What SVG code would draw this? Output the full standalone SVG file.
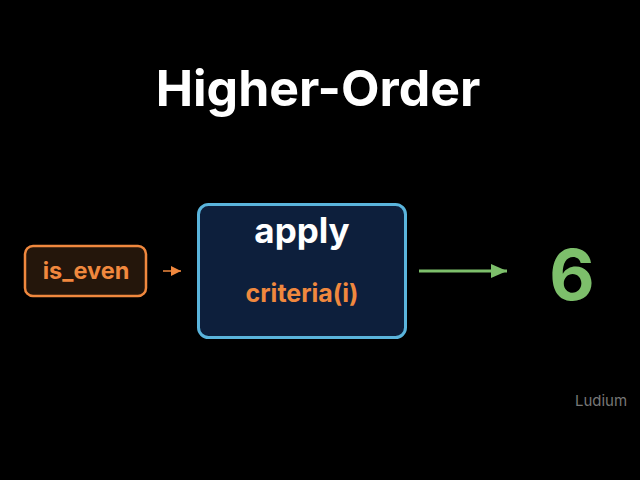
<svg xmlns="http://www.w3.org/2000/svg" width="640" height="480" viewBox="0 0 640 480">
<style>
text{font-family:Inter,"Liberation Sans",sans-serif;font-weight:700;text-anchor:middle}
.or{fill:#f0883e}
</style>
<defs>
<marker id="ah" viewBox="0 0 10 10" refX="10" refY="5" markerWidth="10" markerHeight="10" markerUnits="userSpaceOnUse" orient="auto"><path d="M0,0L10,5L0,10z" fill="#f0883e"/></marker>
<marker id="ag" viewBox="0 0 16 14" refX="16" refY="7" markerWidth="16" markerHeight="14" markerUnits="userSpaceOnUse" orient="auto"><path d="M0,0L16,7L0,14z" fill="#7dbf6b"/></marker>
</defs>
<rect width="640" height="480" fill="#000"/>
<text x="318" y="106" font-size="50" fill="#fff">Higher-Order</text>
<g id="is_even">
<rect x="25" y="246" width="121" height="50" rx="8" fill="#24160b" stroke="#f0883e" stroke-width="2.5"/>
<text x="86" y="279" font-size="23.5" class="or">is_even</text>
</g>
<g id="apply">
<rect x="198.5" y="204.5" width="207" height="133" rx="10" fill="#0d1f3c" stroke="#5ab4dc" stroke-width="3"/>
<text x="302" y="243" font-size="35" fill="#fff">apply</text>
<text x="302" y="302" font-size="25" class="or">criteria(i)</text>
</g>
<g id="result">
<text x="572" y="300" font-size="70" fill="#7dbf6b">6</text>
</g>
<g id="connectors">
<line x1="163" y1="271" x2="181" y2="271" stroke="#f0883e" stroke-width="1.5" marker-end="url(#ah)"/>
<line x1="419" y1="271" x2="507" y2="271" stroke="#7dbf6b" stroke-width="3" marker-end="url(#ag)"/>
</g>
<text x="601" y="406" font-size="15" style="font-weight:400" fill="#777">Ludium</text>
</svg>
